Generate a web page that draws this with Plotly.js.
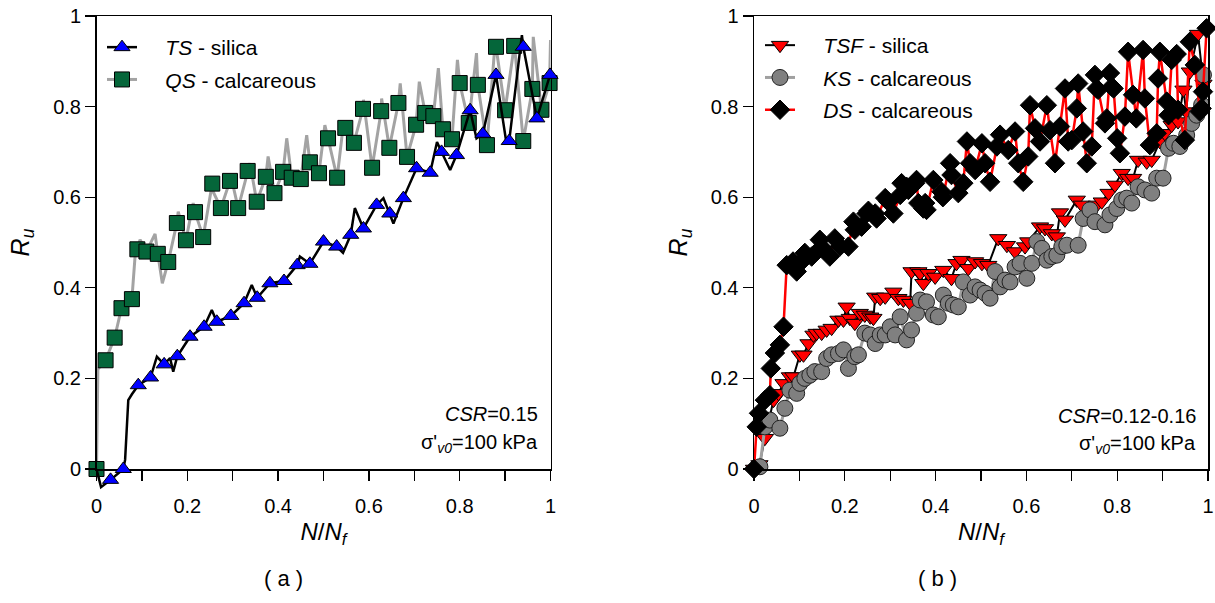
<!DOCTYPE html>
<html><head><meta charset="utf-8">
<script src="https://cdn.plot.ly/plotly-3.0.1.min.js"></script>
<style>html,body{margin:0;padding:0;background:#fff}#chart{width:1215px;height:603px}</style>
</head><body><div id="chart"></div>
<script>
// ---------- Panel (a) ----------
const tsX = [0.031,0.059,0.092,0.119,0.149,0.178,0.206,0.237,0.265,0.296,0.325,0.354,0.382,0.413,0.442,0.47,0.5,0.529,0.56,0.588,0.617,0.646,0.676,0.705,0.735,0.76,0.793,0.823,0.851,0.88,0.909,0.94,0.97,0.999];
const tsY = [-0.024,0.0,0.185,0.202,0.231,0.249,0.292,0.314,0.325,0.338,0.366,0.378,0.41,0.415,0.45,0.453,0.502,0.491,0.517,0.531,0.583,0.564,0.598,0.664,0.654,0.70,0.693,0.792,0.74,0.87,0.724,0.932,0.774,0.87];
// extra wiggle points of the TS trace line (between markers)
const tsLineX = [0,0.01,0.063,0.07,0.078,0.133,0.162,0.169,0.254,0.342,0.448,0.543,0.569,0.632,0.654,0.75,0.779,0.837,0.903,0.937];
const tsLineY = [0,-0.04,0.02,0.152,0.165,0.248,0.245,0.215,0.351,0.406,0.469,0.477,0.576,0.598,0.542,0.722,0.66,0.73,0.719,0.958];

const qsX = [0,0.02,0.04,0.055,0.078,0.09,0.11,0.135,0.158,0.177,0.197,0.217,0.235,0.255,0.274,0.294,0.312,0.333,0.353,0.373,0.392,0.411,0.43,0.45,0.47,0.49,0.51,0.53,0.548,0.567,0.587,0.607,0.627,0.645,0.665,0.684,0.704,0.724,0.742,0.763,0.783,0.8,0.82,0.84,0.86,0.88,0.9,0.92,0.94,0.96,0.98,0.998];
const qsY = [0,0.24,0.29,0.355,0.375,0.485,0.48,0.475,0.457,0.543,0.505,0.567,0.512,0.63,0.576,0.636,0.576,0.658,0.59,0.645,0.609,0.656,0.643,0.64,0.677,0.653,0.73,0.643,0.753,0.72,0.795,0.665,0.79,0.709,0.808,0.689,0.76,0.786,0.779,0.75,0.728,0.852,0.764,0.848,0.715,0.932,0.792,0.934,0.724,0.839,0.793,0.852];
// peaks / troughs of the oscillating QS line
const qsLineX = [0.003,0.085,0.096,0.129,0.145,0.18,0.213,0.257,0.298,0.338,0.378,0.419,0.463,0.503,0.544,0.588,0.628,0.669,0.711,0.753,0.795,0.837,0.878,0.92,0.962,1.0];
const qsLineY = [0.22,0.47,0.506,0.519,0.41,0.568,0.587,0.612,0.638,0.675,0.69,0.73,0.737,0.759,0.763,0.815,0.818,0.851,0.855,0.885,0.903,0.918,0.94,0.943,0.954,0.947];

// ---------- Panel (b) ----------
const tsfX = [0,0.012,0.024,0.043,0.054,0.065,0.079,0.087,0.101,0.109,0.12,0.131,0.138,0.149,0.16,0.171,0.186,0.197,0.204,0.211,0.222,0.233,0.244,0.256,0.263,0.267,0.278,0.289,0.307,0.318,0.329,0.344,0.347,0.362,0.366,0.373,0.384,0.399,0.417,0.435,0.446,0.457,0.472,0.487,0.502,0.516,0.538,0.557,0.575,0.597,0.604,0.63,0.641,0.656,0.667,0.674,0.685,0.711,0.722,0.755,0.766,0.781,0.795,0.81,0.824,0.835,0.846,0.865,0.876,0.894,0.905,0.92,0.934,0.946,0.952,0.96,0.978,0.99];
const tsfY = [0,0.01,0.068,0.152,0.167,0.189,0.204,0.204,0.252,0.252,0.277,0.296,0.3,0.3,0.307,0.311,0.329,0.329,0.358,0.333,0.322,0.344,0.34,0.336,0.333,0.38,0.377,0.38,0.391,0.377,0.373,0.366,0.436,0.436,0.432,0.41,0.432,0.424,0.439,0.421,0.454,0.461,0.443,0.458,0.454,0.45,0.509,0.494,0.48,0.491,0.502,0.535,0.531,0.52,0.513,0.566,0.55,0.594,0.583,0.583,0.59,0.609,0.627,0.653,0.642,0.642,0.682,0.678,0.682,0.723,0.741,0.759,0.767,0.837,0.789,0.877,0.96,0.85];

const ksX = [0.013,0.024,0.035,0.057,0.068,0.079,0.094,0.101,0.112,0.123,0.134,0.149,0.16,0.171,0.186,0.197,0.208,0.222,0.23,0.244,0.256,0.267,0.278,0.289,0.3,0.311,0.322,0.336,0.347,0.358,0.366,0.38,0.395,0.406,0.417,0.428,0.439,0.45,0.461,0.476,0.487,0.498,0.509,0.52,0.531,0.542,0.553,0.564,0.575,0.586,0.601,0.612,0.623,0.634,0.645,0.656,0.667,0.678,0.689,0.714,0.725,0.74,0.751,0.773,0.784,0.799,0.81,0.821,0.832,0.846,0.861,0.876,0.887,0.901,0.913,0.924,0.938,0.953,0.964,0.975,0.986,0.99];
const ksY = [0.005,0.093,0.108,0.09,0.134,0.174,0.167,0.189,0.2,0.207,0.215,0.215,0.244,0.252,0.255,0.263,0.222,0.248,0.252,0.3,0.296,0.277,0.296,0.296,0.314,0.296,0.336,0.285,0.307,0.344,0.373,0.369,0.34,0.336,0.384,0.366,0.362,0.358,0.413,0.384,0.402,0.395,0.388,0.377,0.436,0.402,0.417,0.413,0.446,0.454,0.421,0.454,0.502,0.487,0.461,0.469,0.472,0.491,0.494,0.494,0.553,0.572,0.546,0.539,0.561,0.575,0.594,0.598,0.587,0.623,0.616,0.609,0.642,0.642,0.708,0.719,0.712,0.737,0.763,0.781,0.804,0.87];

const dsX = [0,0.006,0.011,0.024,0.035,0.037,0.046,0.057,0.065,0.072,0.086,0.094,0.108,0.112,0.127,0.145,0.149,0.167,0.178,0.189,0.208,0.219,0.222,0.237,0.248,0.252,0.267,0.27,0.289,0.296,0.307,0.322,0.325,0.336,0.34,0.355,0.358,0.362,0.373,0.377,0.38,0.395,0.413,0.416,0.432,0.435,0.45,0.461,0.469,0.476,0.487,0.502,0.509,0.52,0.535,0.542,0.56,0.575,0.582,0.593,0.604,0.608,0.619,0.63,0.645,0.652,0.663,0.674,0.685,0.692,0.7,0.711,0.714,0.725,0.733,0.744,0.751,0.755,0.758,0.773,0.777,0.784,0.788,0.792,0.8,0.806,0.817,0.824,0.835,0.842,0.857,0.861,0.872,0.887,0.89,0.894,0.909,0.913,0.92,0.931,0.934,0.949,0.96,0.971,0.982,0.986,0.989,0.997];
const dsY = [0,0.093,0.123,0.152,0.163,0.222,0.256,0.274,0.314,0.45,0.458,0.436,0.461,0.477,0.469,0.506,0.49,0.469,0.509,0.491,0.491,0.546,0.528,0.535,0.564,0.57,0.564,0.553,0.598,0.59,0.564,0.605,0.631,0.623,0.616,0.631,0.638,0.587,0.575,0.587,0.572,0.638,0.612,0.6,0.675,0.649,0.609,0.631,0.723,0.675,0.66,0.719,0.675,0.634,0.712,0.738,0.704,0.745,0.675,0.634,0.69,0.803,0.752,0.723,0.803,0.748,0.675,0.756,0.84,0.723,0.726,0.796,0.851,0.745,0.675,0.712,0.87,0.84,0.837,0.763,0.774,0.874,0.844,0.84,0.73,0.697,0.778,0.921,0.826,0.774,0.925,0.818,0.715,0.741,0.862,0.921,0.811,0.781,0.903,0.916,0.793,0.726,0.943,0.892,0.789,0.796,0.833,0.973];

const xTickVals = [0,0.2,0.4,0.6,0.8,1];
const xTickText = ['0','0.2','0.4','0.6','0.8','1'];
const yTickVals = [0,0.2,0.4,0.6,0.8,1];
const yTickText = ['0','0.2','0.4','0.6','0.8','1'];

// merge marker points with extra line points, ordered by x
function mergeLine(ax, ay, bx, by) {
  const pts = [];
  ax.forEach((v, i) => pts.push([v, ay[i]]));
  bx.forEach((v, i) => pts.push([v, by[i]]));
  pts.sort((p, q) => p[0] - q[0]);
  return {x: pts.map(p => p[0]), y: pts.map(p => p[1])};
}
const qsLine = mergeLine(qsX, qsY, qsLineX, qsLineY);
const tsLine = mergeLine(tsX, tsY, tsLineX, tsLineY);

const ARIAL = 'Liberation Sans, Arial, sans-serif';
const PAD = '\u00a0\u00a0\u00a0\u00a0';

const data = [
  // panel (a)
  {x: qsLine.x, y: qsLine.y, mode: 'lines', line: {color: '#a3a3a3', width: 3}, showlegend: false, cliponaxis: false, xaxis: 'x', yaxis: 'y', hoverinfo: 'skip'},
  {x: tsLine.x, y: tsLine.y, mode: 'lines', line: {color: '#000', width: 2.5}, showlegend: false, cliponaxis: false, xaxis: 'x', yaxis: 'y3', hoverinfo: 'skip'},
  {x: tsX, y: tsY, mode: 'markers', marker: {symbol: 'triangle-up', size: 14, color: '#0000ff', line: {color: '#000', width: 1}}, showlegend: false, cliponaxis: false, xaxis: 'x', yaxis: 'y3'},
  {x: qsX, y: qsY, mode: 'markers', marker: {symbol: 'square', size: 15, color: '#05663a', line: {color: '#000', width: 1}}, showlegend: false, cliponaxis: false, xaxis: 'x', yaxis: 'y'},
  {x: [null], y: [null], name: PAD + '<i>TS</i> - silica', legend: 'legend', legendgroup: 'a1', mode: 'lines+markers', line: {color: '#000', width: 2.5}, marker: {symbol: 'triangle-up', size: 14, color: '#0000ff', line: {color: '#000', width: 1}}, xaxis: 'x', yaxis: 'y'},
  {x: [null], y: [null], name: PAD + '<i>QS</i> - calcareous', legend: 'legend', legendgroup: 'a2', mode: 'lines+markers', line: {color: '#a3a3a3', width: 3}, marker: {symbol: 'square', size: 15, color: '#05663a', line: {color: '#000', width: 1}}, xaxis: 'x', yaxis: 'y'},
  // panel (b)
  {x: tsfX, y: tsfY, name: PAD + '<i>TSF</i> - silica', legend: 'legend2', legendgroup: 'b1', mode: 'lines+markers', line: {color: '#000', width: 2}, marker: {symbol: 'triangle-down', size: 15, color: '#ff0000', line: {color: '#000', width: 1}}, cliponaxis: false, xaxis: 'x2', yaxis: 'y2'},
  {x: ksX, y: ksY, name: PAD + '<i>KS</i> - calcareous', legend: 'legend2', legendgroup: 'b2', mode: 'lines+markers', line: {color: '#a0a0a0', width: 3}, marker: {symbol: 'circle', size: 16, color: '#808080', line: {color: '#222', width: 1}}, cliponaxis: false, xaxis: 'x2', yaxis: 'y2'},
  {x: dsX, y: dsY, name: PAD + '<i>DS</i> - calcareous', legend: 'legend2', legendgroup: 'b3', mode: 'lines+markers', line: {color: '#ff0000', width: 2.5}, marker: {symbol: 'diamond', size: 15, color: '#000', line: {color: '#000', width: 1}}, cliponaxis: false, xaxis: 'x2', yaxis: 'y2'}
];

function xAxis(domain, anchor) {
  return {
    domain: domain, anchor: anchor, range: [0, 1], tickmode: 'array', tickvals: xTickVals, ticktext: xTickText,
    ticks: 'outside', ticklen: 10, tickwidth: 1.3, tickcolor: '#000', ticklabelstandoff: 8,
    minor: {dtick: 0.1, ticks: 'outside', ticklen: 10, tickwidth: 1.3, tickcolor: '#000', showgrid: false},
    showline: true, mirror: true, linewidth: 1.5, linecolor: '#000',
    showgrid: false, zeroline: false, tickfont: {family: ARIAL, size: 20, color: '#000'},
    title: {text: '<i>N</i>/<i>N</i><sub><i>f</i></sub>', font: {family: ARIAL, size: 24, color: '#000'}, standoff: 7}
  };
}
function yAxis(domain, anchor) {
  return {
    domain: domain, anchor: anchor, range: [0, 1], tickmode: 'array', tickvals: yTickVals, ticktext: yTickText,
    ticks: 'outside', ticklen: 10, tickwidth: 1.3, tickcolor: '#000', showline: true, mirror: true, linewidth: 1.5, linecolor: '#000',
    showgrid: false, zeroline: false, tickfont: {family: ARIAL, size: 20, color: '#000'},
    title: {text: '<i>R</i><sub><i>u</i></sub>', font: {family: ARIAL, size: 25, color: '#000'}, standoff: 16}
  };
}
const yDom = [1 - 469 / 603, 1 - 16 / 603];
// hidden companion axis: same scale as yaxis, extended slightly below 0 so the TS dip below zero is shown
const yLow = -0.06;
const yDom3 = [1 - (469 - yLow * 453) / 603, 1 - 16 / 603];
const legendBase = {bgcolor: 'rgba(0,0,0,0)', borderwidth: 0, font: {family: ARIAL, size: 21, color: '#000'}, xanchor: 'left', yanchor: 'top', tracegroupgap: 2};

const layout = {
  width: 1215, height: 603, paper_bgcolor: '#fff', plot_bgcolor: 'rgba(0,0,0,0)',
  margin: {l: 0, r: 0, t: 0, b: 0},
  xaxis: xAxis([96.5 / 1215, 550.5 / 1215], 'y'),
  yaxis: yAxis(yDom, 'x'),
  yaxis3: {domain: yDom3, anchor: 'x', range: [yLow, 1], visible: false, showgrid: false, zeroline: false},
  xaxis2: xAxis([754 / 1215, 1208 / 1215], 'y2'),
  yaxis2: yAxis(yDom, 'x2'),
  legend: Object.assign({}, legendBase, {x: 102 / 1215, y: 1 - 27 / 603}),
  legend2: Object.assign({}, legendBase, {x: 760 / 1215, y: 1 - 25 / 603}),
  annotations: [
    {xref: 'x domain', yref: 'y domain', x: 0.977, y: 0.121, xanchor: 'right', yanchor: 'middle', showarrow: false, text: '<i>CSR</i>=0.15', font: {family: ARIAL, size: 20, color: '#000'}},
    {xref: 'x domain', yref: 'y domain', x: 0.977, y: 0.057, xanchor: 'right', yanchor: 'middle', showarrow: false, text: 'σ\'<sub><i>v0</i></sub>=100 kPa', font: {family: ARIAL, size: 20, color: '#000'}},
    {xref: 'x2 domain', yref: 'y2 domain', x: 0.977, y: 0.117, xanchor: 'right', yanchor: 'middle', showarrow: false, text: '<i>CSR</i>=0.12-0.16', font: {family: ARIAL, size: 20, color: '#000'}},
    {xref: 'x2 domain', yref: 'y2 domain', x: 0.977, y: 0.055, xanchor: 'right', yanchor: 'middle', showarrow: false, text: 'σ\'<sub><i>v0</i></sub>=100 kPa', font: {family: ARIAL, size: 20, color: '#000'}},
    {xref: 'paper', yref: 'paper', x: 283 / 1215, y: 1 - 578 / 603, xanchor: 'center', yanchor: 'middle', showarrow: false, text: '( a )', font: {family: ARIAL, size: 22, color: '#000'}},
    {xref: 'paper', yref: 'paper', x: 937 / 1215, y: 1 - 578 / 603, xanchor: 'center', yanchor: 'middle', showarrow: false, text: '( b )', font: {family: ARIAL, size: 22, color: '#000'}}
  ]
};

Plotly.newPlot('chart', data, layout, {staticPlot: true, displayModeBar: false});
</script>
</body></html>
